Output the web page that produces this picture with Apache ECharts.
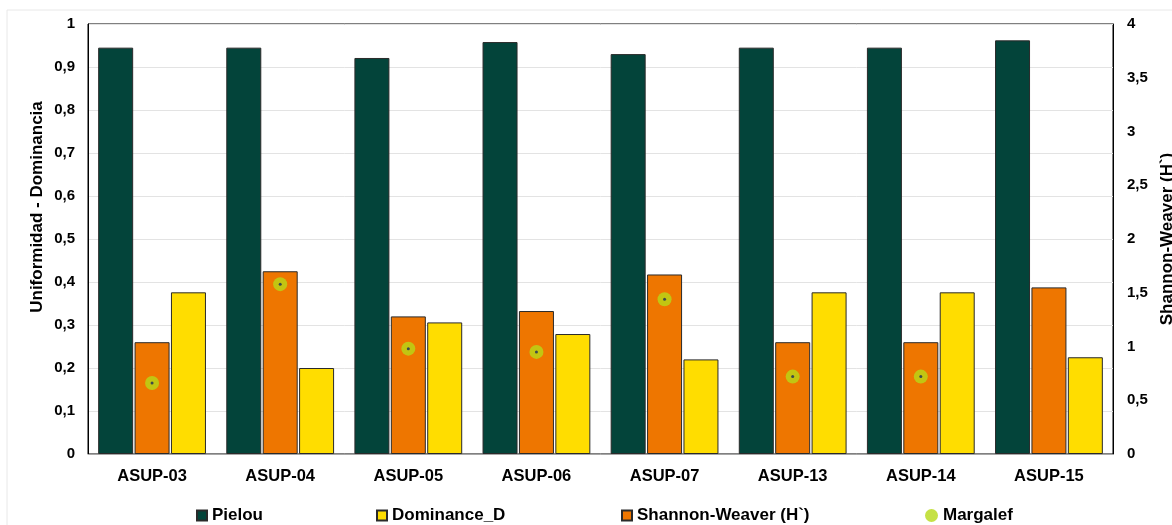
<!DOCTYPE html>
<html>
<head>
<meta charset="utf-8">
<script src="https://cdn.jsdelivr.net/npm/echarts@6/dist/echarts.min.js"></script>
<style>
html,body{margin:0;padding:0;background:#fff;}
#c{width:1172px;height:525px;}
</style>
</head>
<body>
<div id="c"></div>
<script>
var categories = ['ASUP-03','ASUP-04','ASUP-05','ASUP-06','ASUP-07','ASUP-13','ASUP-14','ASUP-15'];
var pielou = [0.945, 0.945, 0.921, 0.958, 0.930, 0.945, 0.945, 0.962];
var dominance = [0.376, 0.200, 0.306, 0.279, 0.220, 0.376, 0.376, 0.225];
var shannon = [1.04, 1.70, 1.28, 1.33, 1.67, 1.04, 1.04, 1.55];
var margalef = [0.66, 1.58, 0.98, 0.95, 1.44, 0.72, 0.72, null];
var leftTicks = {min: 0, max: 1, interval: 0.1};
var rightTicks = {min: 0, max: 4, interval: 0.5};

var FONT = '"Liberation Sans", Arial, sans-serif';
function fmt(v){ return String(Math.round(v*10)/10).replace('.', ','); }

var chart = echarts.init(document.getElementById('c'), null, {renderer: 'canvas'});
var legendText = {fontFamily: FONT, fontWeight: 'bold', fontSize: 17, color: '#000'};
function mkLegend(name, left, icon, w, h){
  return {
    data: [name], left: left, top: 507, icon: icon, itemWidth: w, itemHeight: h,
    itemGap: 0, textStyle: legendText, padding: 0, selectedMode: false
  };
}
var option = {
  animation: false,
  backgroundColor: '#fff',
  grid: {left: 88, right: 59, top: 24, bottom: 71, show: true, borderColor: '#000', borderWidth: 1, containLabel: false},
  legend: [
    mkLegend('Pielou', 196, 'rect', 10, 10),
    mkLegend('Dominance_D', 376, 'rect', 10, 10),
    mkLegend('Shannon-Weaver (H`)', 621, 'rect', 10, 10),
    mkLegend('Margalef', 925, 'circle', 13, 13)
  ],
  xAxis: {
    type: 'category', data: categories,
    axisLine: {lineStyle: {color: '#a6a6a6', width: 1}},
    axisTick: {show: false},
    axisLabel: {fontFamily: FONT, fontWeight: 'bold', fontSize: 16.5, color: '#000', margin: 14}
  },
  yAxis: [
    {
      type: 'value', min: leftTicks.min, max: leftTicks.max, interval: leftTicks.interval,
      axisLine: {show: true, lineStyle: {color: '#000'}},
      axisTick: {show: false},
      splitLine: {lineStyle: {color: '#e3e3e3', width: 1}},
      axisLabel: {fontFamily: FONT, fontWeight: 'bold', fontSize: 15, color: '#000', margin: 13, formatter: fmt}
    },
    {
      type: 'value', min: rightTicks.min, max: rightTicks.max, interval: rightTicks.interval,
      position: 'right',
      axisLine: {show: true, lineStyle: {color: '#000'}},
      axisTick: {show: false},
      splitLine: {show: false},
      axisLabel: {fontFamily: FONT, fontWeight: 'bold', fontSize: 15, color: '#000', margin: 14, align: 'left', formatter: fmt}
    }
  ],
  series: [
    {name: 'Pielou', type: 'bar', yAxisIndex: 0, data: pielou, barWidth: 35, barGap: '4%',
     itemStyle: {color: '#03443a', borderColor: '#2a2a2a', borderWidth: 1}},
    {name: 'Shannon-Weaver (H`)', type: 'bar', yAxisIndex: 1, data: shannon, barWidth: 35, barGap: '4%',
     itemStyle: {color: '#ee7600', borderColor: '#2a2a2a', borderWidth: 1}},
    {name: 'Dominance_D', type: 'bar', yAxisIndex: 0, data: dominance, barWidth: 35, barGap: '4%',
     itemStyle: {color: '#ffdd00', borderColor: '#2a2a2a', borderWidth: 1}},
    {name: 'Margalef', type: 'scatter', yAxisIndex: 1, data: margalef, symbol: 'circle', symbolSize: 14, z: 5,
     itemStyle: {color: '#b6d916'}},
    {name: 'Margalef-centre', type: 'scatter', yAxisIndex: 1, data: margalef, symbol: 'circle', symbolSize: 3, z: 6,
     itemStyle: {color: '#1a2a5a'}, silent: true}
  ],
  graphic: [
    {type: 'rect', shape: {x: 7, y: 10, width: 1200, height: 600}, style: {fill: 'none', stroke: '#e8e8e8', lineWidth: 1}, z: -1, silent: true},
    {type: 'text', x: 37, y: 207, rotation: Math.PI/2, style: {text: 'Uniformidad - Dominancia', font: 'bold 17px "Liberation Sans", Arial, sans-serif', fill: '#000', align: 'center', verticalAlign: 'middle'}},
    {type: 'text', x: 1167, y: 239, rotation: Math.PI/2, style: {text: 'Shannon-Weaver (H`)', font: 'bold 17px "Liberation Sans", Arial, sans-serif', fill: '#000', align: 'center', verticalAlign: 'middle'}}
  ]
};
chart.setOption(option);
</script>
</body>
</html>
